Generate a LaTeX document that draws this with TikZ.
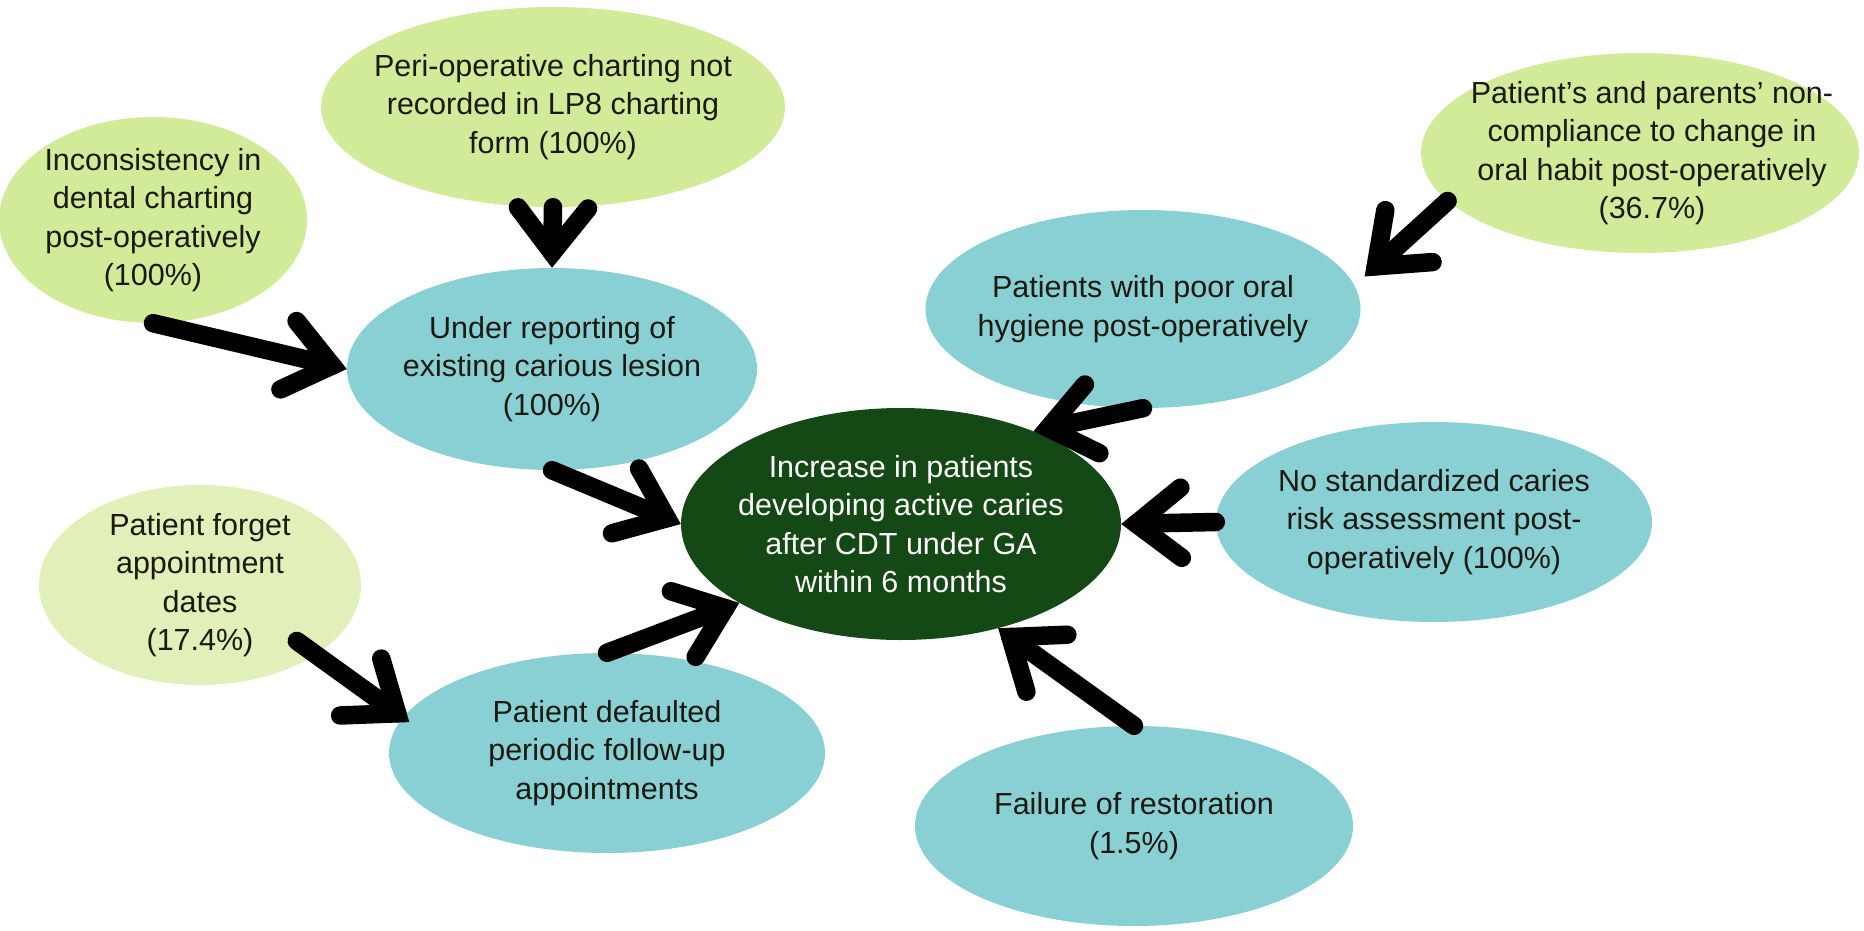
\documentclass[tikz,border=0pt]{standalone}
\usepackage{fontspec}
\setmainfont{Liberation Sans}
\usetikzlibrary{shapes.geometric,calc}

\definecolor{leaf}{HTML}{D2EB98}
\definecolor{paleleaf}{HTML}{E0F0B8}
\definecolor{causeblue}{HTML}{89D0D4}
\definecolor{deepgreen}{HTML}{144814}
\definecolor{ink}{HTML}{1C1A10}

\tikzset{
  blob/.style={ellipse, inner sep=0pt, draw=none},
  lbl/.style={font=\fontsize{30.5}{38.5}\selectfont, align=center, text=ink},
  fatline/.style={line width=18.5pt, line cap=round, draw=black},
}

% thick arrow: round-capped shaft and an open chevron head with a sharp tip
\newcommand\fatarrow[2]{%
  \coordinate (v) at ($(#2)!15pt!(#1)$);
  \draw[fatline] (#1) -- (v);
  \draw[fatline, line join=miter]
    ($(v)!57pt!38:(#1)$) -- (v) -- ($(v)!57pt!-38:(#1)$);
}

\begin{document}
\begin{tikzpicture}[x=1pt,y=-1pt]
\useasboundingbox (0,0) rectangle (1864,930);

% causes and effect
\node[blob, fill=leaf, minimum width=464pt, minimum height=200pt] (peri) at (553,107) {};
\node[blob, fill=leaf, minimum width=308pt, minimum height=206pt] (inc) at (153,220) {};
\node[blob, fill=causeblue, minimum width=410pt, minimum height=202pt] (ur) at (552,369) {};
\node[blob, fill=leaf, minimum width=438pt, minimum height=200pt] (pp) at (1640,153) {};
\node[blob, fill=causeblue, minimum width=435pt, minimum height=198pt] (ph) at (1143,309) {};
\node[blob, fill=deepgreen, minimum width=440pt, minimum height=232pt] (c) at (901,524) {};
\node[blob, fill=causeblue, minimum width=436pt, minimum height=200pt] (ns) at (1434,522) {};
\node[blob, fill=paleleaf, minimum width=322pt, minimum height=200pt] (fg) at (200,585) {};
\node[blob, fill=causeblue, minimum width=436pt, minimum height=200pt] (dft) at (607,753) {};
\node[blob, fill=causeblue, minimum width=438pt, minimum height=200pt] (fr) at (1134,826) {};

% connector ends that are not plain anchors
\coordinate (fgtail) at ($(fg.center)!0.82!(fg.-30)$);
\coordinate (dfttip) at ([xshift=6pt,yshift=-5pt]dft.170);
\coordinate (phtip) at ([xshift=16pt]ph.9);

% arrows
\fatarrow{inc.south}{ur.west}
\fatarrow{peri.south}{ur.north}
\fatarrow{ur.south}{c.west}
\fatarrow{dft.north}{c.206}
\fatarrow{fgtail}{dfttip}
\fatarrow{pp.194}{phtip}
\fatarrow{ph.south}{c.35}
\fatarrow{ns.west}{c.east}
\fatarrow{fr.north}{c.-47}

% labels
\node[lbl] at (peri.center) {Peri-operative charting not\\recorded in LP8 charting\\form (100\%)};
\node[lbl] at (inc.center) {Inconsistency in\\dental charting\\post-operatively\\(100\%)};
\node[lbl] at (ur.center) {Under reporting of\\existing carious lesion\\(100\%)};
\node[lbl] at ([xshift=12pt]pp.center) {Patient’s and parents’ non-\\compliance to change in\\oral habit post-operatively\\(36.7\%)};
\node[lbl] at (ph.center) {Patients with poor oral\\hygiene post-operatively};
\node[lbl, text=white] at (c.center) {Increase in patients\\developing active caries\\after CDT under GA\\within 6 months};
\node[lbl] at (ns.center) {No standardized caries\\risk assessment post-\\operatively (100\%)};
\node[lbl] at (fg.center) {Patient forget\\appointment\\dates\\(17.4\%)};
\node[lbl] at (dft.center) {Patient defaulted\\periodic follow-up\\appointments};
\node[lbl] at (fr.center) {Failure of restoration\\(1.5\%)};
\end{tikzpicture}
\end{document}
